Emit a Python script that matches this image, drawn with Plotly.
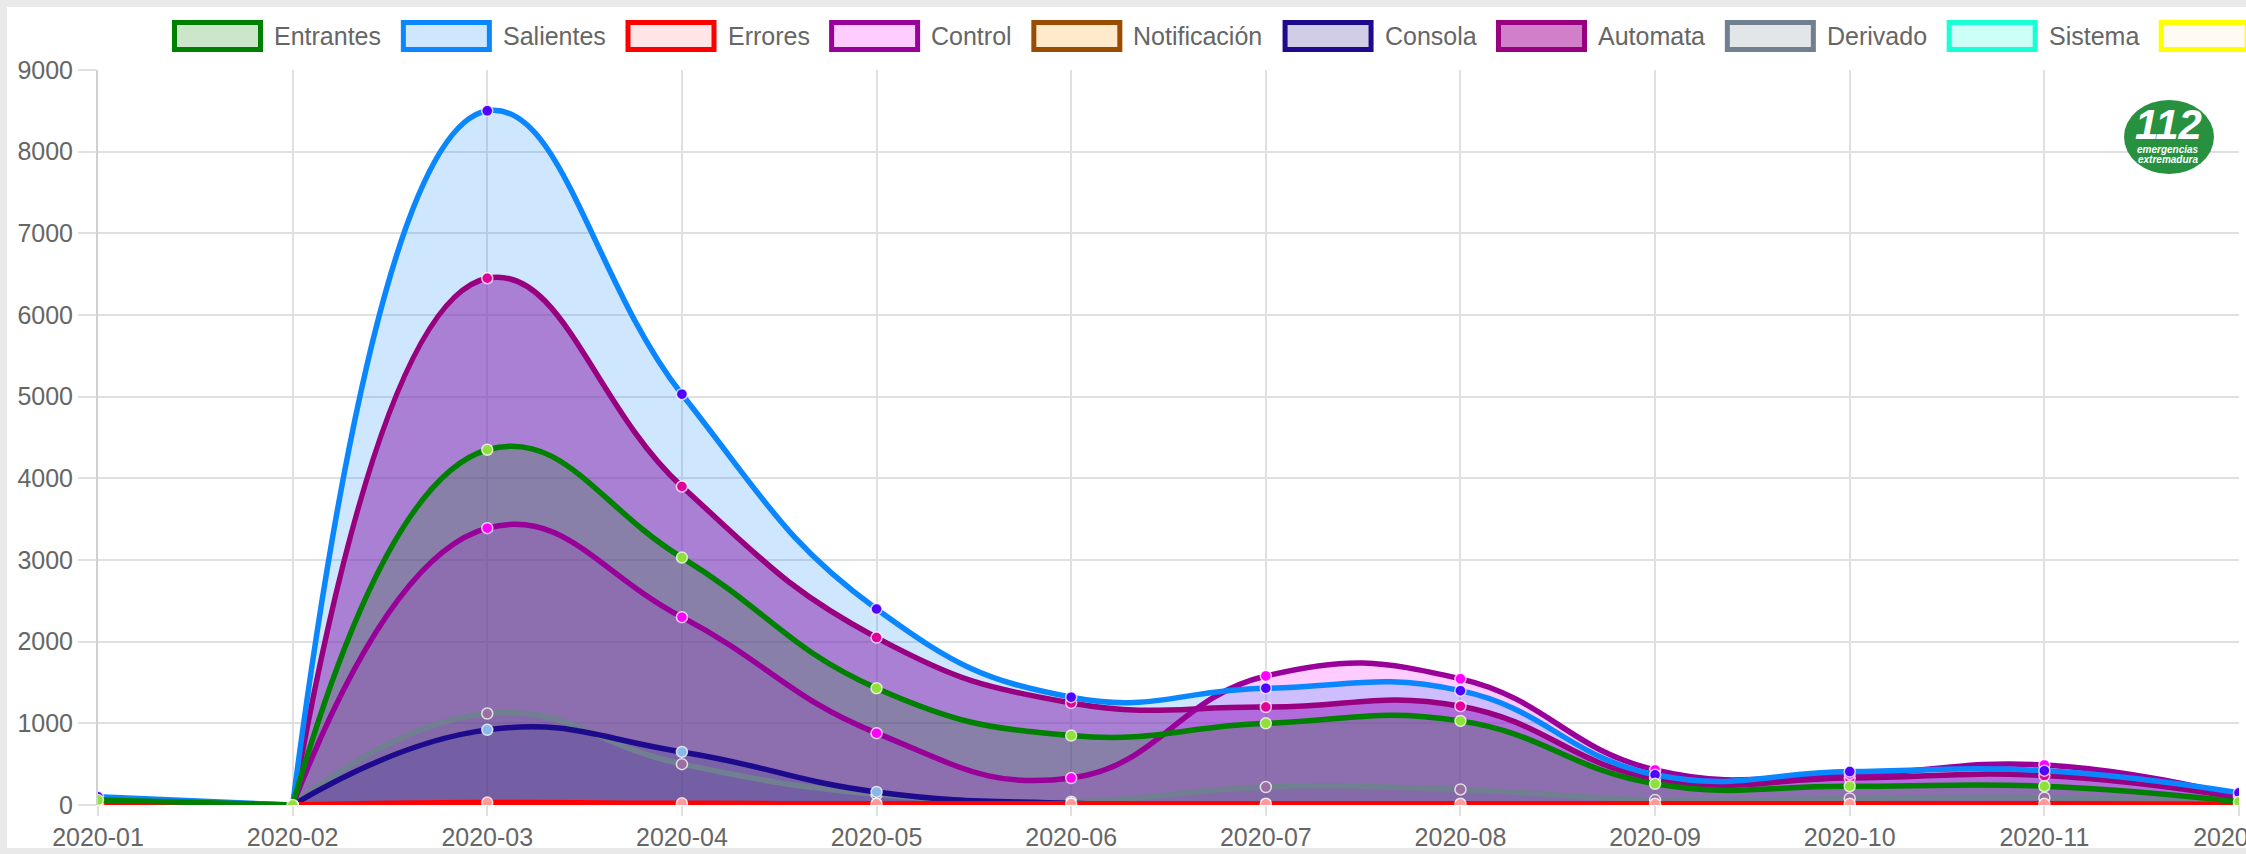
import plotly.graph_objects as go

# ---- data ----
MONTHS = ['2020-01', '2020-02', '2020-03', '2020-04', '2020-05', '2020-06',
          '2020-07', '2020-08', '2020-09', '2020-10', '2020-11', '2020-12']

ENTRANTES = [60, 0, 4350, 3030, 1430, 850, 1000, 1030, 260, 230, 230, 40]
SALIENTES = [100, 0, 8500, 5030, 2400, 1320, 1430, 1400, 370, 410, 420, 150]
ERRORES = [10, 0, 30, 20, 15, 15, 15, 15, 15, 15, 15, 10]
CONTROL = [40, 0, 3390, 2300, 880, 330, 1580, 1545, 430, 380, 490, 110]
NOTIFICACION = [0, 0, 0, 0, 0, 0, 0, 0, 0, 0, 0, 0]
CONSOLA = [0, 0, 920, 650, 160, 20, 5, 5, 5, 5, 5, 0]
AUTOMATA = [30, 0, 6450, 3900, 2050, 1250, 1200, 1210, 320, 330, 360, 90]
DERIVADO = [10, 0, 1120, 500, 130, 40, 220, 190, 60, 80, 90, 20]
SISTEMA = [0, 0, 0, 0, 0, 0, 0, 0, 0, 0, 0, 0]
OTROS = [0, 0, 0, 0, 0, 0, 0, 0, 0, 0, 0, 0]

LABELS = ['Entrantes', 'Salientes', 'Errores', 'Control', 'Notificación',
          'Consola', 'Automata', 'Derivado', 'Sistema', '']
VALUES = [ENTRANTES, SALIENTES, ERRORES, CONTROL, NOTIFICACION,
          CONSOLA, AUTOMATA, DERIVADO, SISTEMA, OTROS]

# border colour, fill colour, point colour
STYLES = [
    ('#008000', 'rgba(0,128,0,0.2)', '#8fe03a'),
    ('#0a86ff', 'rgba(10,134,255,0.2)', '#5000ff'),
    ('#ff0000', 'rgba(255,0,0,0.1)', '#ff9a9a'),
    ('#990099', 'rgba(255,0,255,0.2)', '#ff00ff'),
    ('#9a4c00', 'rgba(255,153,0,0.2)', '#ffb060'),
    ('#1e0a8c', 'rgba(25,5,130,0.2)', '#8ab8e8'),
    ('#990080', 'rgba(165,0,150,0.5)', '#e0009a'),
    ('#708090', 'rgba(112,128,144,0.2)', '#9a70a0'),
    ('#1affd5', 'rgba(0,255,210,0.2)', '#80ffe0'),
    ('#ffff00', 'rgba(255,220,170,0.15)', '#ffffa0'),
]

SMOOTH = 1.3

# ---- geometry (pixels of the 2246x854 page) ----
W_PAGE, H_PAGE = 2246, 854
L, R, T, B = 98, 2239, 70, 805
PW, PH = R - L, B - T


def px(x):
    return (x - L) / PW


def py(y):
    return (B - y) / PH


fig = go.Figure()
pairs = list(zip(LABELS, VALUES, STYLES))

# fills first (Chart.js draws every fill before the lines), last dataset at the bottom.
# first month -> second month is a straight piece, the rest a smooth curve
for name, vals, (line_c, fill_c, pt_c) in reversed(pairs):
    fig.add_trace(go.Scatter(
        x=MONTHS[:2], y=vals[:2], mode='lines', fill='tozeroy', fillcolor=fill_c,
        line=dict(width=0, color='rgba(0,0,0,0)'),
        showlegend=False, hoverinfo='skip'
    ))
    fig.add_trace(go.Scatter(
        x=MONTHS[1:], y=vals[1:], mode='lines', fill='tozeroy', fillcolor=fill_c,
        line=dict(width=0, color='rgba(0,0,0,0)', shape='spline', smoothing=SMOOTH),
        showlegend=False, hoverinfo='skip'
    ))

for name, vals, (line_c, fill_c, pt_c) in reversed(pairs):
    fig.add_trace(go.Scatter(
        x=MONTHS[:2], y=vals[:2], mode='lines',
        line=dict(width=5.5, color=line_c),
        showlegend=False, hoverinfo='skip'
    ))
    fig.add_trace(go.Scatter(
        x=MONTHS[1:], y=vals[1:], mode='lines',
        line=dict(width=5.5, color=line_c, shape='spline', smoothing=SMOOTH),
        showlegend=False, hoverinfo='skip'
    ))
    fig.add_trace(go.Scatter(
        x=MONTHS, y=vals, mode='markers', name=name or 'Otros',
        marker=dict(size=11, color=pt_c, line=dict(width=1.5, color='rgba(255,255,255,0.75)')),
        showlegend=False
    ))

shapes = []
annotations = []

# page frame: grey screenshot border on left/top/bottom
shapes.append(dict(type='rect', xref='paper', yref='paper', layer='below',
                   x0=px(7), x1=px(W_PAGE + 20), y0=py(848), y1=py(7),
                   fillcolor='white', line=dict(width=0)))

# custom Chart.js style legend
CHAR_W = {'E': .667, 'n': .556, 't': .278, 'r': .333, 'a': .556, 'e': .556, 's': .5,
          'S': .667, 'l': .222, 'i': .222, 'o': .556, 'C': .722, 'N': .722, 'f': .278,
          'c': .5, 'ó': .556, 'A': .667, 'u': .556, 'm': .833, 'D': .722, 'v': .5, 'd': .556}
FONT_PX = 25.2
x0 = 172
for name, (line_c, fill_c, pt_c) in zip(LABELS, STYLES):
    shapes.append(dict(type='rect', xref='paper', yref='paper',
                       x0=px(x0 + 2.5), x1=px(x0 + 88.5), y0=py(49.5), y1=py(22.5),
                       fillcolor=fill_c, line=dict(color=line_c, width=5)))
    if name:
        annotations.append(dict(xref='paper', yref='paper', x=px(x0 + 100), y=py(36),
                                text=name, showarrow=False, xanchor='left', yanchor='middle',
                                font=dict(size=25, color='#666666')))
    tw = sum(CHAR_W.get(ch, .556) for ch in name) * FONT_PX
    x0 += 121 + tw

# 112 logo
shapes.append(dict(type='circle', xref='paper', yref='paper',
                   x0=px(2124), x1=px(2214), y0=py(174), y1=py(100),
                   fillcolor='#279140', line=dict(width=0)))
for text, yy, size in [('<b><i>112</i></b>', 124, 42),
                       ('<b><i>emergencias</i></b>', 149, 10),
                       ('<b><i>extremadura</i></b>', 159, 10)]:
    annotations.append(dict(xref='paper', yref='paper', x=px(2168), y=py(yy),
                            text=text, showarrow=False, xanchor='center', yanchor='middle',
                            font=dict(size=size, color='white', family='Liberation Sans')))

fig.update_layout(
    width=W_PAGE, height=H_PAGE,
    margin=dict(l=L, r=W_PAGE - R, t=T, b=H_PAGE - B, pad=0, autoexpand=False),
    paper_bgcolor='#e9e9e9', plot_bgcolor='white',
    font=dict(family='Liberation Sans, Arial, sans-serif', color='#666666'),
    shapes=shapes, annotations=annotations,
    showlegend=False,
    xaxis=dict(type='category', range=[0, len(MONTHS) - 1], automargin=False,
               showgrid=True, gridcolor='#e0e0e0', gridwidth=2,
               ticks='outside', ticklen=10, tickwidth=2, tickcolor='#e0e0e0',
               tickfont=dict(size=25, color='#666666'),
               showline=False, zeroline=False),
    yaxis=dict(range=[0, 9000], dtick=1000, tick0=0, automargin=False,
               showgrid=True, gridcolor='#e0e0e0', gridwidth=2,
               ticks='outside', ticklen=18, tickwidth=2, tickcolor='#e0e0e0',
               tickfont=dict(size=25, color='#666666'),
               showline=True, linecolor='#d0d0d0', linewidth=2,
               zeroline=False),
)

fig.write_html('out.html', config={'displayModeBar': False},
               post_script="document.body.style.margin='0';document.body.style.overflow='hidden';")
